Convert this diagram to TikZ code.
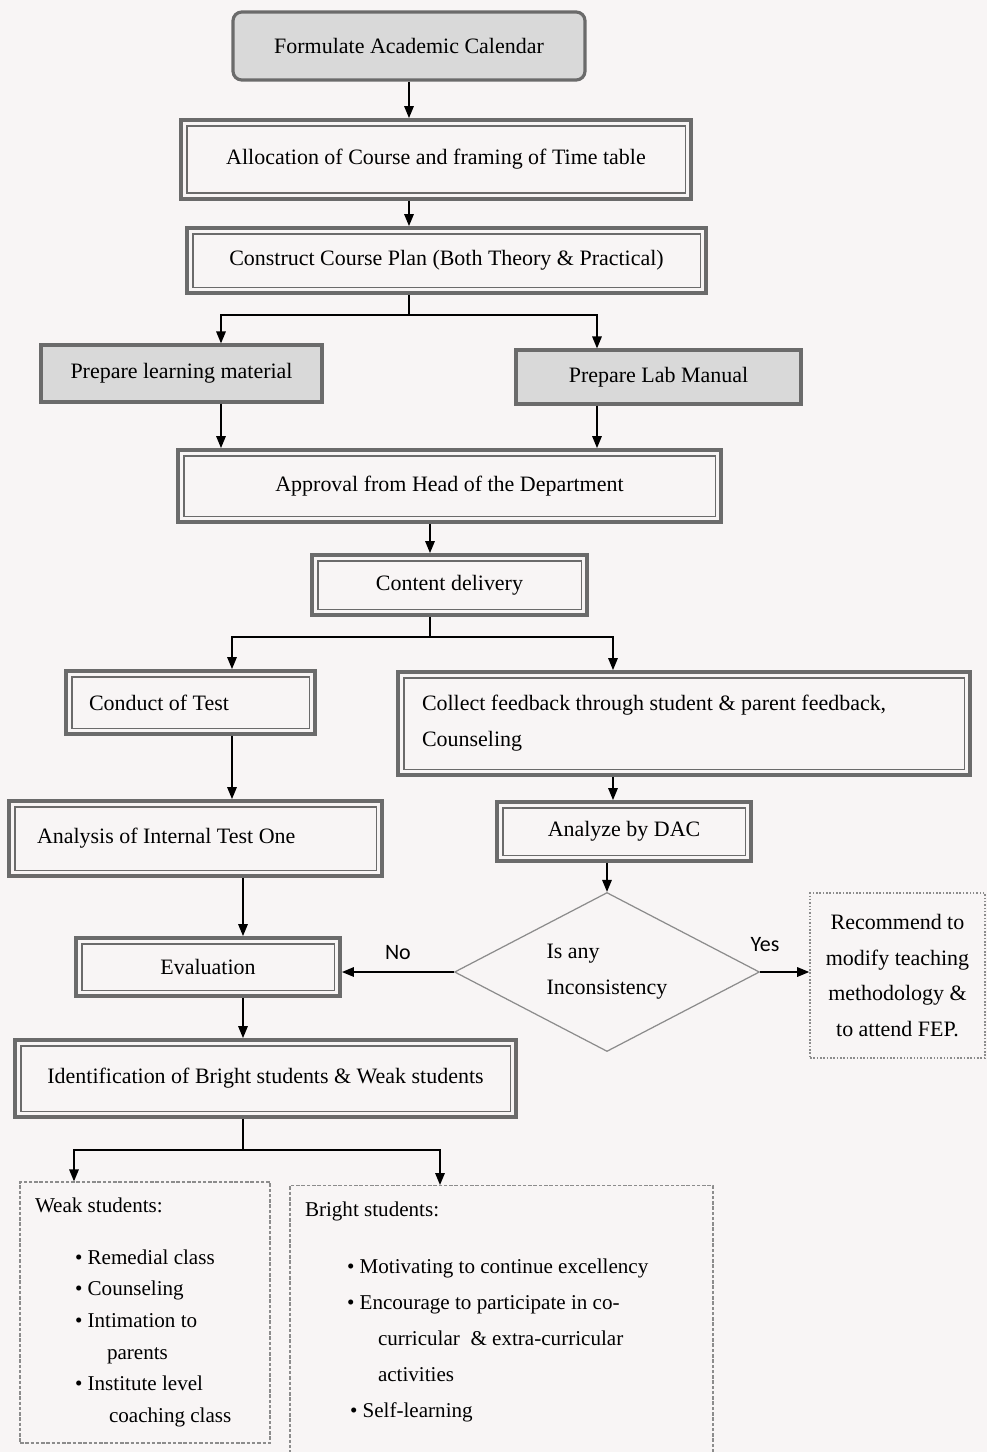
\documentclass[tikz,border=0pt]{standalone}
\usepackage{fontspec}
\setmainfont{Liberation Serif}
\setsansfont{Carlito}
\usepackage{xcolor}
\usepackage{tikz}
\usetikzlibrary{arrows.meta,shapes.geometric}
\definecolor{framegray}{HTML}{6B6B6B}
\definecolor{edgegray}{HTML}{8C8C8C}
\definecolor{boxgray}{HTML}{D9D9D9}
\definecolor{paper}{HTML}{F8F5F5}

\begin{document}
\begin{tikzpicture}[
  font=\fontsize{12.5}{15}\selectfont,
  dblbox/.style={draw=framegray,line width=2.2pt,align=center,
    path picture={\draw[framegray,line width=0.6pt]
      ([shift={(3.4pt,3.4pt)}]path picture bounding box.south west) rectangle
      ([shift={(-3.4pt,-3.4pt)}]path picture bounding box.north east);}},
  greybox/.style={draw=framegray,line width=1.8pt,fill=boxgray,align=center},
  decision/.style={diamond,draw=edgegray,line width=0.7pt,shape aspect=2,
    inner sep=0pt,align=flush left,font=\fontsize{12.5}{20.5}\selectfont},
  notebox/.style={draw=edgegray,densely dotted,line width=0.9pt,align=center,
    font=\fontsize{12.5}{20.3}\selectfont},
  listbox/.style={draw=edgegray,dash pattern=on 2pt off 1pt,line width=0.7pt,
    align=flush left,inner xsep=0.3cm,font=\fontsize{12}{18}\selectfont},
  arrow/.style={-{Triangle[length=2.4mm,width=1.9mm]},line width=0.9pt},
  link/.style={line width=0.9pt},
  yesno/.style={font=\sffamily\fontsize{12.5}{15}\selectfont}
]
\useasboundingbox (0,0) rectangle (19.74,-29.04);
\fill[paper] (0,0) rectangle (19.74,-29.04);

\node[greybox,rounded corners=5pt,minimum width=7.04cm,minimum height=1.36cm] (cal) at (8.18,-0.92) {Formulate Academic Calendar};
\node[dblbox,minimum width=10.2cm,minimum height=1.58cm] (alloc) at (8.72,-3.19) {Allocation of Course and framing of Time table};
\node[dblbox,minimum width=10.38cm,minimum height=1.3cm] (plan) at (8.93,-5.21) {Construct Course Plan (Both Theory \& Practical)};
\node[greybox,minimum width=5.62cm,minimum height=1.14cm] (learn) at (3.63,-7.47) {Prepare learning material};
\node[greybox,minimum width=5.7cm,minimum height=1.08cm] (lab) at (13.17,-7.54) {Prepare Lab Manual};
\node[dblbox,minimum width=10.86cm,minimum height=1.44cm] (hod) at (8.99,-9.72) {Approval from Head of the Department};
\node[dblbox,minimum width=5.5cm,minimum height=1.2cm] (deliv) at (8.99,-11.7) {Content delivery};
\node[dblbox,minimum width=4.98cm,minimum height=1.26cm,text width=4.06cm,align=flush left] (test) at (3.81,-14.05) {Conduct of Test};
\node[dblbox,minimum width=11.44cm,minimum height=2.06cm,text width=10.48cm,align=flush left,
  font=\fontsize{12.5}{20.5}\selectfont] (feed) at (13.68,-14.47) {Collect feedback through student \& parent feedback,\\Counseling};
\node[dblbox,minimum width=7.46cm,minimum height=1.5cm,text width=6.34cm,align=flush left] (itest) at (3.91,-16.77) {Analysis of Internal Test One};
\node[dblbox,minimum width=5.08cm,minimum height=1.18cm] (dac) at (12.48,-16.63) {Analyze by DAC};
\node[decision,minimum width=6.1cm,minimum height=3.18cm] (dia) at (12.14,-19.44) {Is any\\Inconsistency};
\node[notebox,minimum width=3.5cm,minimum height=3.3cm] (rec) at (17.95,-19.51) {Recommend to\\modify teaching\\methodology \&\\to attend FEP.};
\node[dblbox,minimum width=5.28cm,minimum height=1.16cm] (eval) at (4.16,-19.34) {Evaluation};
\node[dblbox,minimum width=10.02cm,minimum height=1.54cm] (ident) at (5.31,-21.57) {Identification of Bright students \& Weak students};
\node[listbox,minimum width=5cm,minimum height=5.22cm,text width=4.4cm] (weak) at (2.9,-26.25) {Weak students:\\[0.4cm]
  \hspace*{0.8cm}\textbullet\ Remedial class\\
  \hspace*{0.8cm}\textbullet\ Counseling\\
  \hspace*{0.8cm}\textbullet\ Intimation to\\
  \hspace*{1.44cm}parents\\
  \hspace*{0.8cm}\textbullet\ Institute level\\
  \hspace*{1.48cm}coaching class};
\node[listbox,anchor=north,minimum width=8.46cm,text width=7.86cm,inner ysep=0.32cm,text depth=4.8cm,
  font=\fontsize{12}{20.5}\selectfont] (bright) at (10.03,-23.7) {Bright students:\\[0.42cm]
  \hspace*{0.84cm}\textbullet\ Motivating to continue excellency\\
  \hspace*{0.84cm}\textbullet\ Encourage to participate in co-\\
  \hspace*{1.46cm}curricular \ \& extra-curricular\\
  \hspace*{1.46cm}activities\\
  \hspace*{0.9cm}\textbullet\ Self-learning};

\coordinate (fork1) at (8.18,-6.3);
\coordinate (fork1l) at (4.42,-6.3);
\coordinate (fork1r) at (11.94,-6.3);
\coordinate (fork2) at (8.6,-12.74);
\coordinate (fork2l) at (4.64,-12.74);
\coordinate (fork2r) at (12.26,-12.74);
\coordinate (fork3) at (4.86,-23.0);
\coordinate (fork3l) at (1.48,-23.0);
\coordinate (fork3r) at (8.8,-23.0);

\draw[arrow] (cal.south) -- (cal.south |- alloc.north);
\draw[arrow] (cal.south |- alloc.south) -- (cal.south |- plan.north);
\draw[link] (plan.south -| fork1) -- (fork1);
\draw[arrow] (fork1) -- (fork1l) -- (learn.north -| fork1l);
\draw[arrow] (fork1) -- (fork1r) -- (lab.north -| fork1r);
\draw[arrow] (learn.south -| fork1l) -- (hod.north -| fork1l);
\draw[arrow] (lab.south -| fork1r) -- (hod.north -| fork1r);
\draw[arrow] (hod.south -| fork2) -- (deliv.north -| fork2);
\draw[link] (deliv.south -| fork2) -- (fork2);
\draw[arrow] (fork2) -- (fork2l) -- (test.north -| fork2l);
\draw[arrow] (fork2) -- (fork2r) -- (feed.north -| fork2r);
\draw[arrow] (test.south -| fork2l) -- (itest.north -| fork2l);
\draw[arrow] (feed.south -| fork2r) -- (dac.north -| fork2r);
\draw[arrow] (itest.south -| fork3) -- (eval.north -| fork3);
\draw[arrow] (dac.south -| dia.north) -- (dia.north);
\draw[arrow] (dia.west) -- node[yesno,above=3pt] {No} (dia.west -| eval.east);
\draw[arrow] (dia.east) -- node[yesno,above=8pt,pos=0.1] {Yes} (dia.east -| rec.west);
\draw[arrow] (eval.south -| fork3) -- (ident.north -| fork3);
\draw[link] (ident.south -| fork3) -- (fork3);
\draw[arrow] (fork3) -- (fork3l) -- (weak.north -| fork3l);
\draw[arrow] (fork3) -- (fork3r) -- (bright.north -| fork3r);
\end{tikzpicture}
\end{document}
